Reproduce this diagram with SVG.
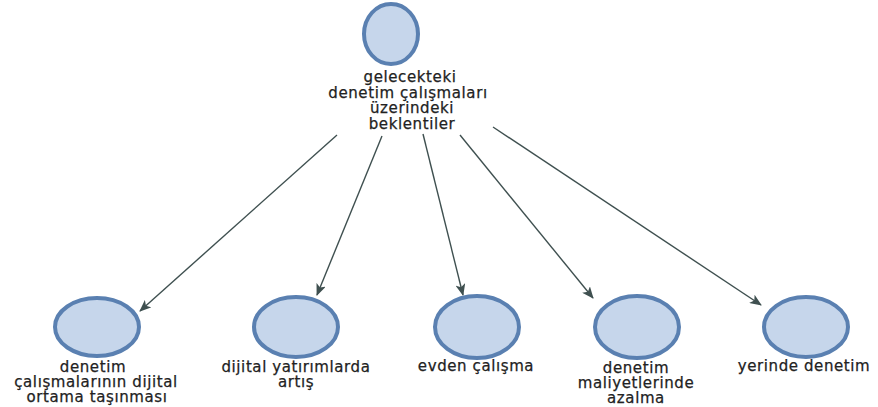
<svg xmlns="http://www.w3.org/2000/svg" width="878" height="407" viewBox="0 0 878 407">
  <style>
    .node ellipse { fill: #c6d6eb; stroke: #5a80b1; stroke-width: 4; }
    .label { font-family: "DejaVu Sans", Verdana, sans-serif; font-size: 15px; letter-spacing: 0.6px; fill: #222222; stroke: #222222; stroke-width: 0.25; text-anchor: middle; }
    .edge { stroke: #3f5050; stroke-width: 1.4; fill: none; marker-end: url(#arrow); }
  </style>
  <defs>
    <marker id="arrow" viewBox="0 0 12 10" refX="11" refY="5" markerWidth="12" markerHeight="10" markerUnits="userSpaceOnUse" orient="auto">
      <path d="M0,0 L12,5 L0,10 L3,5 Z" fill="#3f5050"/>
    </marker>
  </defs>
  <rect width="878" height="407" fill="#ffffff"/>
  <g id="connectors">
    <line class="edge" x1="337" y1="135" x2="140" y2="311"/>
    <line class="edge" x1="382" y1="136" x2="317" y2="295"/>
    <line class="edge" x1="423" y1="134" x2="463" y2="295"/>
    <line class="edge" x1="460" y1="135" x2="593" y2="298"/>
    <line class="edge" x1="493" y1="127" x2="761" y2="305"/>
  </g>
  <g id="root" class="node">
    <ellipse cx="391" cy="34" rx="27" ry="30"/>
    <text class="label"><tspan x="410" y="82">gelecekteki</tspan><tspan x="408" y="98">denetim çalışmaları</tspan><tspan x="412" y="113">üzerindeki</tspan><tspan x="412" y="129">beklentiler</tspan></text>
  </g>
  <g id="n1" class="node">
    <ellipse cx="97" cy="327" rx="42" ry="29"/>
    <text class="label"><tspan x="93" y="372">denetim</tspan><tspan x="96" y="387">çalışmalarının dijital</tspan><tspan x="97" y="402">ortama taşınması</tspan></text>
  </g>
  <g id="n2" class="node">
    <ellipse cx="296" cy="327" rx="42" ry="30"/>
    <text class="label"><tspan x="296" y="372">dijital yatırımlarda</tspan><tspan x="296" y="387">artış</tspan></text>
  </g>
  <g id="n3" class="node">
    <ellipse cx="477" cy="327" rx="42" ry="31"/>
    <text class="label"><tspan x="476" y="371">evden çalışma</tspan></text>
  </g>
  <g id="n4" class="node">
    <ellipse cx="637" cy="327" rx="42" ry="31"/>
    <text class="label"><tspan x="636" y="373">denetim</tspan><tspan x="636" y="388">maliyetlerinde</tspan><tspan x="636" y="403">azalma</tspan></text>
  </g>
  <g id="n5" class="node">
    <ellipse cx="806" cy="327" rx="42" ry="30"/>
    <text class="label"><tspan x="804" y="371">yerinde denetim</tspan></text>
  </g>
</svg>
